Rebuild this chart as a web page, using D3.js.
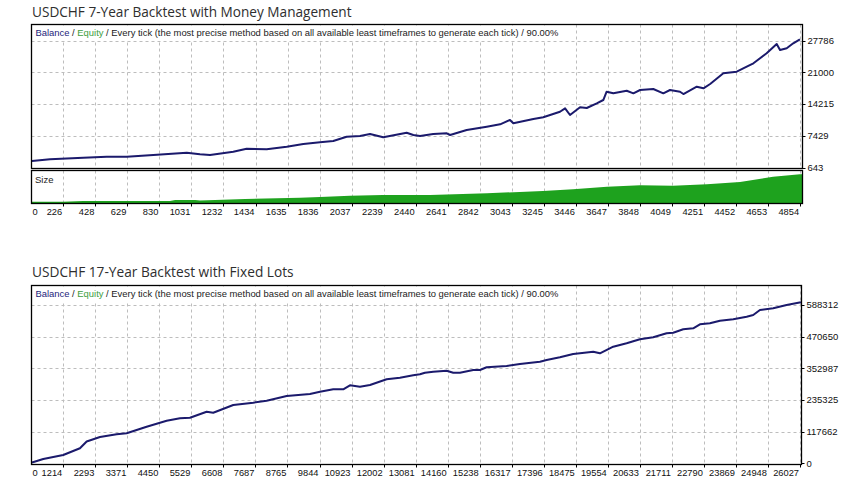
<!DOCTYPE html>
<html><head><meta charset="utf-8">
<script src="https://cdn.jsdelivr.net/npm/d3@7"></script>
<style>body{margin:0;background:#fff}svg{display:block}</style>
</head><body>
<svg id="c" width="856" height="496"></svg>
<script>
// ---------- data ----------
const title1 = "USDCHF 7-Year Backtest with Money Management";
const title2 = "USDCHF 17-Year Backtest with Fixed Lots";
const legendRest = " / Every tick (the most precise method based on all available least timeframes to generate each tick) / 90.00%";

const mmTicksX = [0,226,428,629,830,1031,1232,1434,1635,1836,2037,2239,2440,2641,2842,3043,3245,3446,3647,3848,4049,4251,4452,4653,4854];
const mmTicksY = [643,7429,14215,21000,27786];
const mmTrades  = [0,143,352,499,625,792,1002,1085,1148,1294,1378,1504,1630,1734,1839,1922,2006,2090,2153,2236,2383,2425,2467,2550,2635,2656,2760,2886,2970,3032,3053,3179,3241,3346,3378,3409,3472,3514,3577,3618,3639,3681,3765,3807,3849,3932,3995,4037,4100,4121,4205,4247,4289,4372,4456,4519,4561,4644,4707,4728,4770,4811,4853];
const mmBalance = [2075,2438,2780,2994,2994,3357,3849,3507,3357,4062,4703,4575,5131,5708,6071,6349,7268,7417,7845,7139,8123,7631,7417,7845,7994,7631,8699,9405,9918,10836,10131,11050,11413,12610,13337,11905,13550,13401,14405,15110,16884,16542,17098,16542,17247,17461,16542,17247,16884,16393,17953,17611,18530,20816,21158,22227,22953,25090,27078,25795,26159,27227,28082];

const sizeTrades = [30,225,351,897,929,1054,1085,1179,1368,1713,1839,2027,2234,2530,2888,3239,3428,3641,3849,4056,4269,4477,4684,4853];
const sizeLots   = [0.013,0.013,0.02,0.02,0.03,0.03,0.025,0.03,0.04,0.053,0.06,0.073,0.08,0.08,0.097,0.12,0.137,0.163,0.177,0.173,0.187,0.21,0.263,0.287];

const flTicksX = [0,1214,2293,3371,4450,5529,6608,7687,8765,9844,10923,12002,13081,14160,15238,16317,17396,18475,19554,20633,21711,22790,23869,24948,26027];
const flTicksY = [0,117662,235325,352987,470650,588312];
const flTrades  = [160,539,1212,1775,2001,2449,3011,3348,4021,4695,5143,5480,6042,6264,6938,7612,8063,8737,9522,9859,10306,10643,10869,11206,11543,12105,12553,13000,13226,13395,13674,14125,14348,14573,15021,15247,15472,16146,16594,17268,17493,17941,18389,18615,19063,19289,19736,20188,20636,21084,21535,21757,22094,22431,22657,22993,23330,23778,24230,24452,24678,25125,25576,26058];
const flBalance = [3000,15981,30846,55746,81018,97741,107776,111492,136020,158319,167238,169468,191766,188050,216666,225214,232647,250114,257547,266094,275014,275014,289879,284676,290994,312178,318124,327043,330760,336706,340422,344139,336706,336706,346740,346740,356774,361606,369039,377586,383904,393938,406203,408804,414750,408804,433332,445968,460834,468266,483132,485362,497998,501714,516580,520296,529959,535162,544824,551142,569724,576042,588306,598340];

// ---------- styles ----------
const svg = d3.select('#c');
const uiFont = "'Liberation Sans', Arial, sans-serif";
const titleFont = "'Open Sans', 'Noto Sans', sans-serif";
const lineCol = '#1b1a6c';
const greenCol = '#1ea21e';
const gridCol = '#bdbdbd';

function fit(sel, w){
  const L = sel.node().getComputedTextLength();
  const fs = parseFloat(sel.attr('font-size'));
  sel.attr('font-size', fs * w / L);
}

function title(txt, y, w){
  const t = svg.append('text').attr('x',32).attr('y',y)
    .attr('font-family',titleFont).attr('font-size',14).attr('font-weight',500).attr('fill','#2e2e2e').text(txt);
  fit(t, w);
}

function legend(x0, top){
  svg.append('rect').attr('x',x0+1).attr('y',top+1).attr('width',530).attr('height',15).attr('fill','#fff');
  const t = svg.append('text').attr('x',x0+4).attr('y',top+11.8)
    .attr('font-family',uiFont).attr('font-size',9).attr('fill','#222');
  t.append('tspan').attr('fill','#23237a').text('Balance');
  t.append('tspan').text(' / ');
  t.append('tspan').attr('fill','#3d9e3d').text('Equity');
  t.append('tspan').text(legendRest);
  fit(t, 524);
}

function vgrid(x, ticks, y0, y1){
  svg.append('g').selectAll('line').data(ticks.slice(1)).join('line')
    .attr('x1',d=>Math.round(x(d))+0.5).attr('x2',d=>Math.round(x(d))+0.5)
    .attr('y1',y0).attr('y2',y1)
    .attr('stroke',gridCol).attr('stroke-dasharray','3,3').attr('stroke-width',1);
}
function hgrid(y, ticks, x0, x1){
  svg.append('g').selectAll('line').data(ticks.slice(1)).join('line')
    .attr('y1',d=>Math.round(y(d))+0.5).attr('y2',d=>Math.round(y(d))+0.5)
    .attr('x1',x0).attr('x2',x1)
    .attr('stroke',gridCol).attr('stroke-dasharray','3,3').attr('stroke-width',1);
}
function xAxis(x, ticks, yLine, yText, left){
  const g = svg.append('g');
  g.selectAll('line').data(ticks.slice(1)).join('line')
    .attr('x1',d=>Math.round(x(d))+0.5).attr('x2',d=>Math.round(x(d))+0.5)
    .attr('y1',yLine).attr('y2',yLine+3).attr('stroke','#000');
  g.selectAll('text').data(ticks).join('text')
    .attr('x',(d,i)=> i===0 ? left+1 : x(d)-1)
    .attr('y',yText)
    .attr('text-anchor',(d,i)=> i===0 ? 'start' : 'end')
    .attr('font-family',uiFont).attr('font-size',9.3).attr('fill','#111')
    .text(d=>d);
}
function yAxis(y, ticks, xLine){
  const g = svg.append('g');
  g.selectAll('line').data(ticks).join('line')
    .attr('y1',d=>Math.round(y(d))+0.5).attr('y2',d=>Math.round(y(d))+0.5)
    .attr('x1',xLine).attr('x2',xLine+3).attr('stroke','#000');
  g.selectAll('text').data(ticks).join('text')
    .attr('x',xLine+5).attr('y',d=>y(d)+3.3)
    .attr('font-family',uiFont).attr('font-size',9.5).attr('fill','#111')
    .text(d=>d);
}
function frame(x0,y0,x1,y1,w){
  svg.append('rect').attr('x',x0).attr('y',y0).attr('width',x1-x0).attr('height',y1-y0)
    .attr('fill','none').attr('stroke','#000').attr('stroke-width',w||1);
}
function clip(id,x0,y0,x1,y1){
  svg.append('clipPath').attr('id',id).append('rect')
    .attr('x',x0).attr('y',y0).attr('width',x1-x0).attr('height',y1-y0);
}

// ---------- chart 1 ----------
title(title1, 17, 320);
const L1 = 31.5, R1 = 802.5, T1 = 24.5, B1 = 168.5, ST = 170.5, SB = 203.5;
const x1 = d3.scaleLinear().domain([30,4866]).range([32,802]).clamp(true);
const y1 = d3.scaleLinear().domain([643,27786]).range([167.7,40.7]);
const ys = d3.scaleLinear().domain([0,0.33]).range([203,170]);

vgrid(x1, mmTicksX, T1, B1);
vgrid(x1, mmTicksX, ST, SB);
hgrid(y1, mmTicksY, L1, R1);
legend(L1, T1);
svg.append('text').attr('x',35).attr('y',182.5).attr('font-family',uiFont).attr('font-size',9.5).attr('fill','#222').text('Size');

clip('c1', L1, T1, R1, B1);
clip('cs', L1, ST, R1, SB);

const sizeData = sizeTrades.map((t,i)=>({t, v:sizeLots[i]}));
sizeData.push({t:4866, v:sizeLots[sizeLots.length-1]});
svg.append('path').attr('clip-path','url(#cs)')
  .datum(sizeData)
  .attr('d', d3.area().x(d=>x1(d.t)).y0(ys(0)).y1(d=>ys(d.v)))
  .attr('fill',greenCol);

const mmData = mmTrades.map((t,i)=>({t, v:mmBalance[i]}));
svg.append('path').attr('clip-path','url(#c1)')
  .datum(mmData)
  .attr('d', d3.line().x(d=>x1(d.t)).y(d=>y1(d.v)))
  .attr('fill','none').attr('stroke',lineCol).attr('stroke-width',2).attr('stroke-linejoin','round');

frame(L1,T1,R1,B1,1.3);
frame(L1,ST,R1,SB,1.3);
xAxis(x1, mmTicksX, SB, 215, L1);
yAxis(y1, mmTicksY, R1);

// ---------- chart 2 ----------
title(title2, 277, 262);
const L2 = 31.5, R2 = 801.5, T2 = 285.5, B2 = 464.5;
const x2 = d3.scaleLinear().domain([160,26061]).range([32,801]).clamp(true);
const y2 = d3.scaleLinear().domain([0,588312]).range([463.3,305]);

vgrid(x2, flTicksX, T2, B2);
hgrid(y2, flTicksY, L2, R2);
legend(L2, T2);
clip('c2', L2, T2, R2, B2);

const flData = flTrades.map((t,i)=>({t, v:flBalance[i]}));
svg.append('path').attr('clip-path','url(#c2)')
  .datum(flData)
  .attr('d', d3.line().x(d=>x2(d.t)).y(d=>y2(d.v)))
  .attr('fill','none').attr('stroke',lineCol).attr('stroke-width',2).attr('stroke-linejoin','round');

frame(L2,T2,R2,B2,1.3);
xAxis(x2, flTicksX, B2, 476, L2);
yAxis(y2, flTicksY, R2);
</script>
</body></html>
